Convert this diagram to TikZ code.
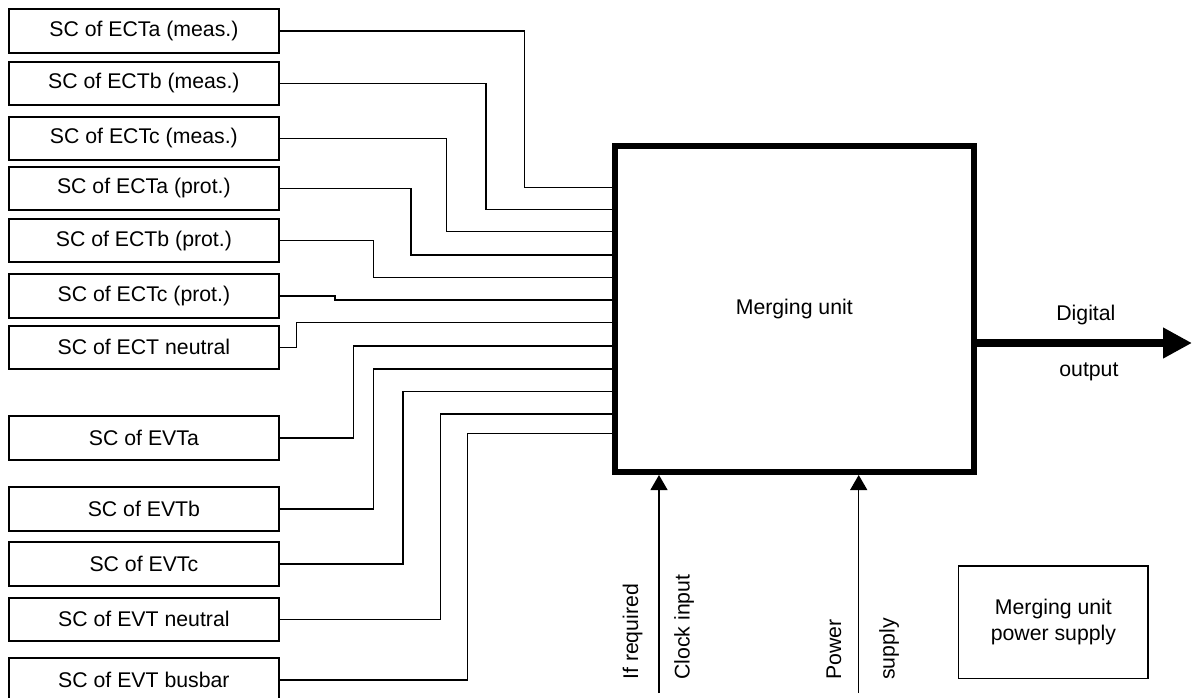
\documentclass[tikz,border=0pt]{standalone}
\usepackage{fontspec}
\setmainfont{Liberation Sans}
\usetikzlibrary{arrows.meta}
\tikzset{
  mutext/.style={font=\fontsize{12.1}{14.4}\selectfont},
  muinput/.style={rectangle, draw, line width=1.1pt, minimum width=5.41cm,
                  minimum height=0.866cm, inner sep=0pt, mutext},
  muunit/.style={rectangle, draw, line width=3.4pt, minimum width=7.17cm,
                 minimum height=6.53cm, inner sep=0pt, mutext},
  mupower/.style={rectangle, draw, line width=0.85pt, minimum width=3.79cm,
                  minimum height=2.25cm, align=center, mutext},
  muwire/.style={draw, line width=0.6pt},
  mufeed/.style={draw, line width=0.7pt,
                 -{Triangle[length=0.3cm, width=0.34cm]}},
  muoutput/.style={draw, line width=4.8pt,
                   -{Triangle[length=0.58cm, width=0.58cm]}},
  mulabel/.style={anchor=base west, inner sep=0pt, mutext},
  muvlabel/.style={mulabel, rotate=90}
}

\begin{document}
\begin{tikzpicture}[
    x=0.02cm, y=-0.02cm
]
  \useasboundingbox (0,0) rectangle (1194,697);
  \node[muunit] (mu) at (794.3,308.8) {Merging unit};
  \foreach \name/\ypos/\text in {ectam/31/SC of ECTa (meas.),
      ectbm/83.3/SC of ECTb (meas.), ectcm/138.3/SC of ECTc (meas.),
      ectap/188.3/SC of ECTa (prot.), ectbp/240.5/SC of ECTb (prot.),
      ectcp/296/SC of ECTc (prot.), ectn/347.3/SC of ECT neutral,
      evta/438/SC of EVTa, evtb/509/SC of EVTb, evtc/564/SC of EVTc,
      evtn/619.3/SC of EVT neutral, evtbus/680/SC of EVT busbar} {
    \node[muinput] (\name) at (143.9,\ypos) {\text};
  }
  \foreach \name/\vx/\vy in {ectam/524.5/187.3, ectbm/486/209.3,
      ectcm/446.6/231.7, ectap/411/255, ectbp/373.5/277.3, ectcp/335/300,
      ectn/296.4/322.7, evta/353.8/346, evtb/373.5/369, evtc/403/391.7,
      evtn/440.7/414, evtbus/467.6/433.3} {
    \draw[muwire] (\name.east) -| (\vx,\vy) -- (mu.west |- \vx,\vy);
  }
  % digital output of the unit
  \coordinate (dout) at (1192,343);
  \draw[muoutput] (mu.east |- dout) -- (dout);
  \node[mulabel] (digital) at (1056,320) {Digital};
  \node[mulabel] (output) at (1059,376) {output};
  % clock and supply feeds from below
  \coordinate (clk) at (659,693);
  \coordinate (pwr) at (858.7,693);
  \draw[mufeed] (clk) -- (clk |- mu.south);
  \draw[mufeed] (pwr) -- (pwr |- mu.south);
  \node[muvlabel] (ifreq) at (638,680) {If required};
  \node[muvlabel] (clklabel) at (689.5,680) {Clock input};
  \node[muvlabel] (pwrlabel) at (841,680) {Power};
  \node[muvlabel] (suplabel) at (894.5,680) {supply};
  \node[mupower] (psu) at (1053.4,622) {Merging unit\\power supply};
\end{tikzpicture}
\end{document}
